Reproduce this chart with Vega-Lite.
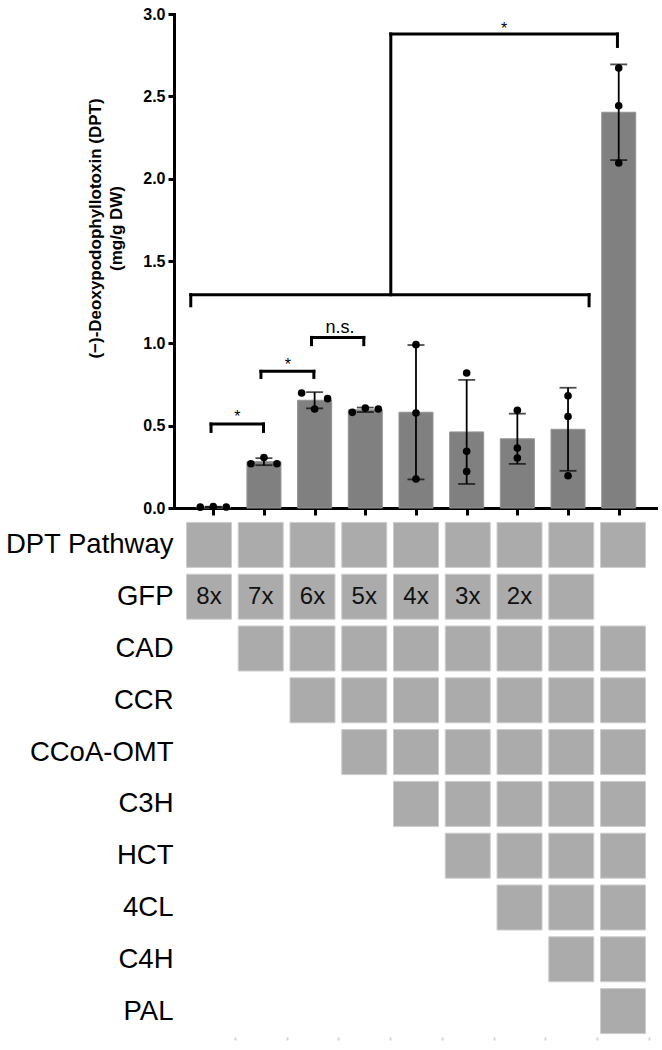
{
  "$schema": "https://vega.github.io/schema/vega-lite/v6.json",
  "padding": {"left": 4, "top": 6, "right": 4, "bottom": 4},
  "config": {"font": "Liberation Sans", "view": {"stroke": null},
    "axis": {"titleFontSize": 17, "titleFontWeight": "bold", "titleColor": "black", "titleLineHeight": 21, "titleFont": "Liberation Sans"}},
  "bounds": "flush",
  "spacing": 11,
  "datasets": {
    "reps": [
      {"col": 1, "lane": -1, "value": 0.005}, {"col": 1, "lane": 0, "value": 0.008}, {"col": 1, "lane": 1, "value": 0.006},
      {"col": 2, "lane": -1, "value": 0.269}, {"col": 2, "lane": 0, "value": 0.306}, {"col": 2, "lane": 1, "value": 0.269},
      {"col": 3, "lane": -1, "value": 0.698}, {"col": 3, "lane": 0, "value": 0.601}, {"col": 3, "lane": 1, "value": 0.664},
      {"col": 4, "lane": -1, "value": 0.581}, {"col": 4, "lane": 0, "value": 0.607}, {"col": 4, "lane": 1, "value": 0.601},
      {"col": 5, "lane": 0, "value": 0.992}, {"col": 5, "lane": 0, "value": 0.577}, {"col": 5, "lane": 0, "value": 0.176},
      {"col": 6, "lane": 0, "value": 0.820}, {"col": 6, "lane": 0, "value": 0.344}, {"col": 6, "lane": 0, "value": 0.222},
      {"col": 7, "lane": 0, "value": 0.593}, {"col": 7, "lane": 0, "value": 0.364}, {"col": 7, "lane": 0, "value": 0.304},
      {"col": 8, "lane": 0, "value": 0.682}, {"col": 8, "lane": 0, "value": 0.556}, {"col": 8, "lane": 0, "value": 0.196},
      {"col": 9, "lane": 0, "value": 2.672}, {"col": 9, "lane": 0, "value": 2.443}, {"col": 9, "lane": 0, "value": 2.095}
    ],
    "brackets": [
      {"from": 0.956, "to": 1.991, "level": 0.510, "dropL": 0.465, "dropR": 0.465},
      {"from": 1.941, "to": 2.985, "level": 0.830, "dropL": 0.793, "dropR": 0.793},
      {"from": 2.938, "to": 3.970, "level": 1.036, "dropL": 0.992, "dropR": 0.992},
      {"from": 0.556, "to": 8.415, "level": 1.295, "dropL": 1.228, "dropR": 1.228},
      {"from": 4.503, "to": 8.975, "level": 2.878, "dropL": 1.295, "dropR": 2.803}
    ],
    "marks": [
      {"at": 1.477, "y": 0.522, "text": "*"},
      {"at": 2.474, "y": 0.840, "text": "*"},
      {"at": 3.502, "y": 1.065, "text": "n.s."},
      {"at": 6.739, "y": 2.879, "text": "*"}
    ],
    "grid": [
      {"gene": "DPT Pathway", "col": 1}, {"gene": "DPT Pathway", "col": 2}, {"gene": "DPT Pathway", "col": 3},
      {"gene": "DPT Pathway", "col": 4}, {"gene": "DPT Pathway", "col": 5}, {"gene": "DPT Pathway", "col": 6},
      {"gene": "DPT Pathway", "col": 7}, {"gene": "DPT Pathway", "col": 8}, {"gene": "DPT Pathway", "col": 9},
      {"gene": "GFP", "col": 1, "tag": "8x"}, {"gene": "GFP", "col": 2, "tag": "7x"}, {"gene": "GFP", "col": 3, "tag": "6x"},
      {"gene": "GFP", "col": 4, "tag": "5x"}, {"gene": "GFP", "col": 5, "tag": "4x"}, {"gene": "GFP", "col": 6, "tag": "3x"},
      {"gene": "GFP", "col": 7, "tag": "2x"}, {"gene": "GFP", "col": 8},
      {"gene": "CAD", "col": 2}, {"gene": "CAD", "col": 3}, {"gene": "CAD", "col": 4}, {"gene": "CAD", "col": 5},
      {"gene": "CAD", "col": 6}, {"gene": "CAD", "col": 7}, {"gene": "CAD", "col": 8}, {"gene": "CAD", "col": 9},
      {"gene": "CCR", "col": 3}, {"gene": "CCR", "col": 4}, {"gene": "CCR", "col": 5}, {"gene": "CCR", "col": 6},
      {"gene": "CCR", "col": 7}, {"gene": "CCR", "col": 8}, {"gene": "CCR", "col": 9},
      {"gene": "CCoA-OMT", "col": 4}, {"gene": "CCoA-OMT", "col": 5}, {"gene": "CCoA-OMT", "col": 6},
      {"gene": "CCoA-OMT", "col": 7}, {"gene": "CCoA-OMT", "col": 8}, {"gene": "CCoA-OMT", "col": 9},
      {"gene": "C3H", "col": 5}, {"gene": "C3H", "col": 6}, {"gene": "C3H", "col": 7}, {"gene": "C3H", "col": 8}, {"gene": "C3H", "col": 9},
      {"gene": "HCT", "col": 6}, {"gene": "HCT", "col": 7}, {"gene": "HCT", "col": 8}, {"gene": "HCT", "col": 9},
      {"gene": "4CL", "col": 7}, {"gene": "4CL", "col": 8}, {"gene": "4CL", "col": 9},
      {"gene": "C4H", "col": 8}, {"gene": "C4H", "col": 9},
      {"gene": "PAL", "col": 9}
    ]
  },
  "vconcat": [
    {
      "width": 482,
      "height": 494,
      "layer": [
        {
          "data": {"name": "reps"},
          "mark": {"type": "bar", "width": 34, "color": "#808080", "stroke": "#939393", "strokeWidth": 1},
          "encoding": {
            "x": {"field": "col", "type": "quantitative",
              "scale": {"domain": [0.324, 9.637], "nice": false, "zero": false},
              "axis": {"values": [1, 2, 3, 4, 5, 6, 7, 8, 9], "labels": false, "title": null, "grid": false,
                "tickSize": 7, "tickWidth": 3, "tickColor": "black", "domainColor": "black", "domainWidth": 3, "domainCap": "square"}},
            "y": {"aggregate": "mean", "field": "value", "type": "quantitative",
              "title": ["(−)-Deoxypodophyllotoxin (DPT)", "(mg/g DW)"],
              "scale": {"domain": [0, 3], "nice": false},
              "axis": {"values": [0, 0.5, 1, 1.5, 2, 2.5, 3], "format": ".1f", "grid": false,
                "labelFontSize": 16, "labelFontWeight": "bold", "labelColor": "black", "labelPadding": 3,
                "tickSize": 6, "tickWidth": 3, "tickColor": "black", "domainColor": "black", "domainWidth": 3, "domainCap": "square",
                "titleFontSize": 17, "titleFontWeight": "bold", "titleColor": "black", "titleLineHeight": 21,
                "titleAlign": "center", "titleAnchor": "middle", "titleAngle": 270, "titleBaseline": "bottom",
                "titleY": 214, "titlePadding": 17, "titleLimit": 1000}}
          }
        },
        {
          "data": {"name": "reps"},
          "mark": {"type": "errorbar", "extent": "stdev", "orient": "vertical", "ticks": true, "size": 17, "thickness": 1.8, "color": "black"},
          "encoding": {
            "x": {"field": "col", "type": "quantitative"},
            "y": {"field": "value", "type": "quantitative", "title": ["(−)-Deoxypodophyllotoxin (DPT)", "(mg/g DW)"]}
          }
        },
        {
          "data": {"name": "reps"},
          "mark": {"type": "circle", "size": 58, "color": "black", "opacity": 1, "xOffset": {"expr": "datum.lane * 13"}},
          "encoding": {
            "x": {"field": "col", "type": "quantitative"},
            "y": {"field": "value", "type": "quantitative", "title": ["(−)-Deoxypodophyllotoxin (DPT)", "(mg/g DW)"]}
          }
        },
        {
          "data": {"name": "brackets"},
          "mark": {"type": "rule", "strokeWidth": 3, "color": "black", "strokeCap": "square"},
          "encoding": {
            "x": {"field": "from", "type": "quantitative"},
            "x2": {"field": "to"},
            "y": {"field": "level", "type": "quantitative", "title": ["(−)-Deoxypodophyllotoxin (DPT)", "(mg/g DW)"]}
          }
        },
        {
          "data": {"name": "brackets"},
          "mark": {"type": "rule", "strokeWidth": 3, "color": "black", "strokeCap": "square"},
          "encoding": {
            "x": {"field": "from", "type": "quantitative"},
            "y": {"field": "dropL", "type": "quantitative", "title": ["(−)-Deoxypodophyllotoxin (DPT)", "(mg/g DW)"]},
            "y2": {"field": "level"}
          }
        },
        {
          "data": {"name": "brackets"},
          "mark": {"type": "rule", "strokeWidth": 3, "color": "black", "strokeCap": "square"},
          "encoding": {
            "x": {"field": "to", "type": "quantitative"},
            "y": {"field": "dropR", "type": "quantitative", "title": ["(−)-Deoxypodophyllotoxin (DPT)", "(mg/g DW)"]},
            "y2": {"field": "level"}
          }
        },
        {
          "data": {"name": "marks"},
          "transform": [{"filter": "datum.text === '*'"}],
          "mark": {"type": "text", "fontSize": 16, "color": "black", "align": "center", "baseline": "alphabetic"},
          "encoding": {
            "x": {"field": "at", "type": "quantitative"},
            "y": {"field": "y", "type": "quantitative", "title": ["(−)-Deoxypodophyllotoxin (DPT)", "(mg/g DW)"]},
            "text": {"field": "text"}
          }
        },
        {
          "data": {"name": "marks"},
          "transform": [{"filter": "datum.text !== '*'"}],
          "mark": {"type": "text", "fontSize": 18, "color": "black", "align": "center", "baseline": "alphabetic"},
          "encoding": {
            "x": {"field": "at", "type": "quantitative"},
            "y": {"field": "y", "type": "quantitative", "title": ["(−)-Deoxypodophyllotoxin (DPT)", "(mg/g DW)"]},
            "text": {"field": "text"}
          }
        }
      ]
    },
    {
      "width": 482,
      "height": 518,
      "data": {"name": "grid"},
      "encoding": {
        "x": {"field": "col", "type": "quantitative",
          "scale": {"domain": [0.324, 9.637], "nice": false, "zero": false},
          "axis": {"values": [1.5, 2.5, 3.5, 4.5, 5.5, 6.5, 7.5, 8.5, 9.5], "labels": false, "title": null, "grid": false,
            "domain": false, "tickColor": "#d2d2d2", "tickSize": 3, "tickWidth": 2}},
        "y": {"field": "gene", "type": "nominal",
          "sort": ["DPT Pathway", "GFP", "CAD", "CCR", "CCoA-OMT", "C3H", "HCT", "4CL", "C4H", "PAL"],
          "scale": {"type": "point", "padding": 0.5},
          "axis": {"title": null, "domain": false, "ticks": false, "grid": false, "labelPadding": 1,
            "labelFontSize": 27.5, "labelColor": "black", "labelLimit": 400}}
      },
      "layer": [
        {
          "mark": {"type": "square", "size": 2025, "filled": true, "color": "#ababab", "opacity": 1, "stroke": "#cdcdcd", "strokeWidth": 1}
        },
        {
          "transform": [{"filter": "datum.tag"}],
          "mark": {"type": "text", "fontSize": 24, "color": "#111111", "align": "center", "baseline": "middle"},
          "encoding": {"text": {"field": "tag"}}
        }
      ]
    }
  ]
}
